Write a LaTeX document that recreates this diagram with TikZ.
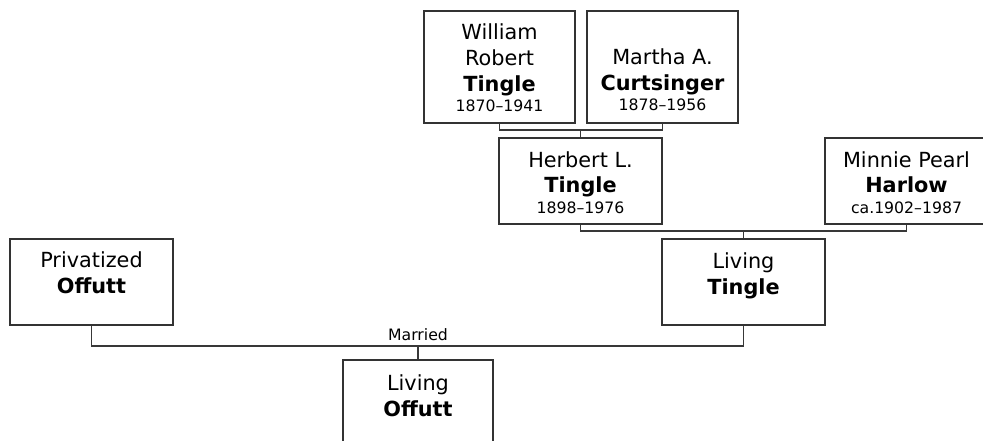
\documentclass[tikz,border=0pt]{standalone}
\usepackage{fontspec}
\setmainfont{DejaVu Sans}
\usetikzlibrary{calc}

\newcommand{\nmsize}{\fontsize{20.8}{26}\selectfont}
\newcommand{\dtsize}{\fontsize{15.7}{20}\selectfont}
% card text: width, height, first baseline, lines
\newcommand{\pcard}[4]{\parbox[c][#2pt][t]{#1pt}{\centering\nmsize\rule{0pt}{#3pt}#4}}

\begin{document}
\begin{tikzpicture}[x=1pt,y=-1pt,
  card/.style={draw=black!80, line width=1.4pt, inner sep=0pt},
  link/.style={draw=black!78, line width=1.5pt},
  lbl/.style={font=\dtsize, inner sep=0pt, anchor=base}]
 \useasboundingbox (0,0) rectangle (983,441);
 \clip (0,0) rectangle (983,441);
 % grandparents
 \node[card] (wrt) at (499.5,67) {\pcard{151}{112}{29}{William\\Robert\\\textbf{Tingle}\par\dtsize 1870–1941}};
 \node[card] (mac) at (662.5,67) {\pcard{151}{112}{54}{Martha A.\\\textbf{Curtsinger}\par\dtsize 1878–1956}};
 % parents
 \node[card] (hlt) at (580.5,181) {\pcard{163}{86}{29}{Herbert L.\\\textbf{Tingle}\par\dtsize 1898–1976}};
 \node[card] (mph) at (906.5,181) {\pcard{163}{86}{29}{Minnie Pearl\\\textbf{Harlow}\par\dtsize ca.1902–1987}};
 % couple
 \node[card] (pvo) at (91.5,282) {\pcard{163}{86}{28}{Privatized\\\textbf{Offutt}}};
 \node[card] (lvt) at (743.5,282) {\pcard{163}{86}{29}{Living\\\textbf{Tingle}}};
 % child
 \node[card] (lvo) at (418,403) {\pcard{150}{86}{30}{Living\\\textbf{Offutt}}};
 % connectors
 \coordinate (m1) at (580.5,130);
 \coordinate (m2) at (743.5,231);
 \coordinate (m3) at (418,346);
 \draw[link] (wrt.south) |- (m1) -| (mac.south);
 \draw[link] (m1) -- (hlt.north);
 \draw[link] (hlt.south) |- (m2) -| (mph.south);
 \draw[link] (m2) -- (lvt.north);
 \draw[link] (pvo.south) |- (m3) -| (lvt.south);
 \draw[link] (m3) -- (lvo.north);
 \node[lbl] (mar) at ($(m3)+(0,-5.5)$) {Married};
\end{tikzpicture}
\end{document}
